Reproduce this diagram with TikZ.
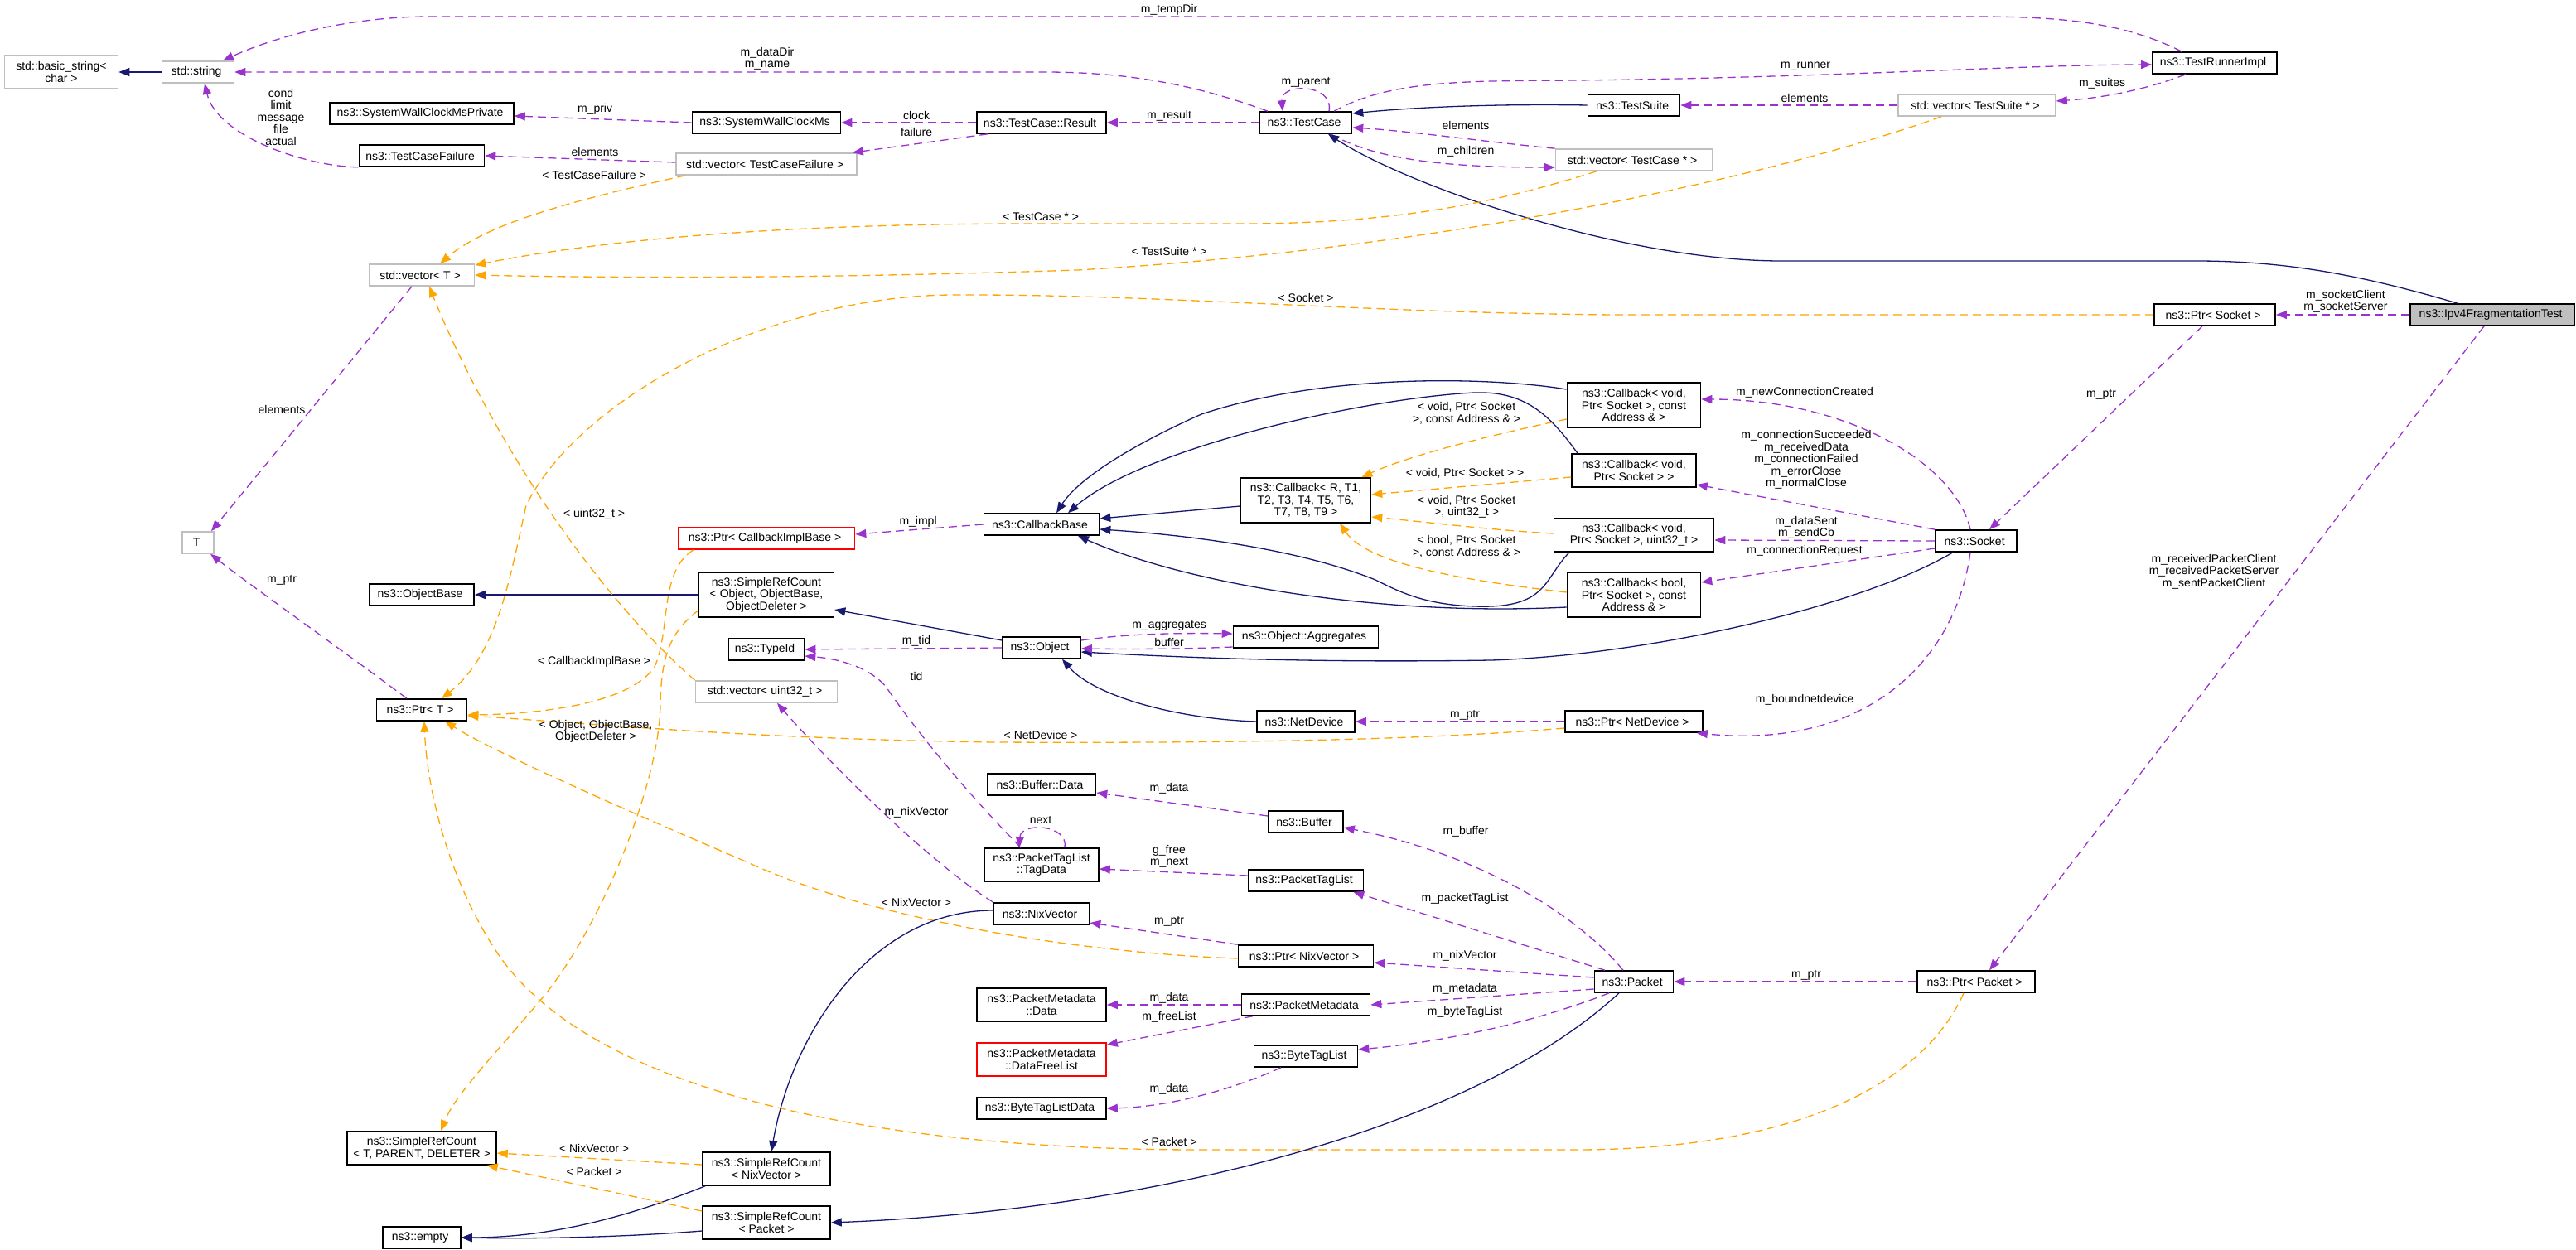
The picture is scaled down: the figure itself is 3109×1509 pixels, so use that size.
\documentclass[tikz,border=0pt]{standalone}
\usepackage{fontspec}
\setmainfont{Liberation Sans}
\usepackage{tikz}
\usetikzlibrary{arrows.meta,positioning,calc}
\usepackage{color}
\definecolor{inhcol}{HTML}{191970}
\definecolor{usecol}{HTML}{9A32CD}
\definecolor{tplcol}{HTML}{FFA500}
\definecolor{extcol}{HTML}{BFBFBF}

\tikzset{
  cls/.style={draw=black, fill=white, line width=1.6pt, font=\fontsize{14}{14.5}\selectfont,
    align=center, inner xsep=4pt, inner ysep=2pt, minimum height=26pt},
  ext/.style={cls, draw=extcol},
  trunc/.style={cls, draw=red},
  focus/.style={cls, fill=extcol},
  lines2/.style={minimum height=40pt},
  lines3/.style={minimum height=54pt},
  inherit/.style={draw=inhcol, line width=1.3pt, -{Triangle[length=13pt,width=10pt]}},
  member/.style={draw=usecol, line width=1.3pt, dash pattern=on 10pt off 6pt, -{Triangle[length=13pt,width=10pt]}},
  templ/.style={draw=tplcol, line width=1.3pt, dash pattern=on 10pt off 6pt, -{Triangle[length=13pt,width=10pt]}},
  lbl/.style={font=\fontsize{14}{14.5}\selectfont, align=center, inner sep=0pt}
}

\begin{document}
\begin{tikzpicture}[x=1pt,y=-1pt]
    \path[use as bounding box, fill=white] (0,0) rectangle (3109,1509);

    % classes
    \node [ext, lines2, minimum width=137pt] (bstr) at (74,87) { std::basic\_string<\\char > };
    \node [ext, minimum width=87pt] (str) at (239,87) { std::string };
    \node [ext, minimum width=38pt] (T) at (239,655) { T };
    \node [cls, minimum width=222pt] (swcp) at (509,137) { ns3::SystemWallClockMsPrivate };
    \node [cls, minimum width=151pt] (tcf) at (509,188) { ns3::TestCaseFailure };
    \node [ext, minimum width=127pt] (vecT) at (509,332) { std::vector< T > };
    \node [cls, minimum width=126pt] (objb) at (509,718) { ns3::ObjectBase };
    \node [cls, minimum width=109pt] (ptrT) at (509,857) { ns3::Ptr< T > };
    \node [cls, lines2, minimum width=180pt] (srctpd) at (509,1386) { ns3::SimpleRefCount\\< T, PARENT, DELETER > };
    \node [cls, minimum width=94pt] (empty) at (509,1494) { ns3::empty };
    \node [cls, minimum width=179pt] (swc) at (925,148) { ns3::SystemWallClockMs };
    \node [ext, minimum width=218pt] (vtcf) at (925,198) { std::vector< TestCaseFailure > };
    \node [trunc, minimum width=213pt] (pcib) at (925,650) { ns3::Ptr< CallbackImplBase > };
    \node [cls, lines3, minimum width=163pt] (src) at (925,718) { ns3::SimpleRefCount\\< Object, ObjectBase,\\ObjectDeleter > };
    \node [cls, minimum width=91pt] (typeid) at (925,784) { ns3::TypeId };
    \node [ext, minimum width=171pt] (vu32) at (925,835) { std::vector< uint32\_t > };
    \node [cls, lines2, minimum width=154pt] (srcnix) at (925,1411) { ns3::SimpleRefCount\\< NixVector > };
    \node [cls, lines2, minimum width=154pt] (srcpkt) at (925,1476) { ns3::SimpleRefCount\\< Packet > };
    \node [cls, minimum width=156pt] (res) at (1257,148) { ns3::TestCase::Result };
    \node [cls, minimum width=139pt] (cbb) at (1257,633) { ns3::CallbackBase };
    \node [cls, minimum width=94pt] (obj) at (1257,782) { ns3::Object };
    \node [cls, minimum width=131pt] (bufd) at (1257,947) { ns3::Buffer::Data };
    \node [cls, lines2, minimum width=138pt] (tagd) at (1257,1044) { ns3::PacketTagList\\::TagData };
    \node [cls, minimum width=115pt] (nix) at (1257,1103) { ns3::NixVector };
    \node [cls, lines2, minimum width=156pt] (pmdd) at (1257,1213) { ns3::PacketMetadata\\::Data };
    \node [trunc, lines2, minimum width=156pt] (pmfl) at (1257,1279) { ns3::PacketMetadata\\::DataFreeList };
    \node [cls, minimum width=156pt] (btld) at (1257,1338) { ns3::ByteTagListData };
    \node [cls, minimum width=111pt] (tc) at (1576,148) { ns3::TestCase };
    \node [cls, lines3, minimum width=157pt] (cbg) at (1576,604) { ns3::Callback< R, T1,\\T2, T3, T4, T5, T6,\\T7, T8, T9 > };
    \node [cls, minimum width=175pt] (agg) at (1576,769) { ns3::Object::Aggregates };
    \node [cls, minimum width=118pt] (netdev) at (1576,871) { ns3::NetDevice };
    \node [cls, minimum width=90pt] (buf) at (1576,992) { ns3::Buffer };
    \node [cls, minimum width=139pt] (ptl) at (1576,1063) { ns3::PacketTagList };
    \node [cls, minimum width=163pt] (pnix) at (1576,1154) { ns3::Ptr< NixVector > };
    \node [cls, minimum width=155pt] (pmd) at (1576,1213) { ns3::PacketMetadata };
    \node [cls, minimum width=125pt] (btl) at (1576,1275) { ns3::ByteTagList };
    \node [cls, minimum width=111pt] (ts) at (1972,127) { ns3::TestSuite };
    \node [ext, minimum width=189pt] (vtc) at (1972,193) { std::vector< TestCase * > };
    \node [cls, lines3, minimum width=161pt] (cb1) at (1972,489) { ns3::Callback< void,\\Ptr< Socket >, const\\Address \& > };
    \node [cls, lines2, minimum width=150pt] (cb2) at (1972,568) { ns3::Callback< void,\\Ptr< Socket > > };
    \node [cls, lines2, minimum width=193pt] (cb3) at (1972,646) { ns3::Callback< void,\\Ptr< Socket >, uint32\_t > };
    \node [cls, lines3, minimum width=161pt] (cb4) at (1972,718) { ns3::Callback< bool,\\Ptr< Socket >, const\\Address \& > };
    \node [cls, minimum width=166pt] (pnd) at (1972,871) { ns3::Ptr< NetDevice > };
    \node [cls, minimum width=95pt] (pkt) at (1972,1185) { ns3::Packet };
    \node [ext, minimum width=190pt] (vts) at (2386,127) { std::vector< TestSuite * > };
    \node [cls, minimum width=98pt] (sock) at (2385,653) { ns3::Socket };
    \node [cls, minimum width=142pt] (ppkt) at (2385,1185) { ns3::Ptr< Packet > };
    \node [cls, minimum width=150pt] (tri) at (2673,76) { ns3::TestRunnerImpl };
    \node [cls, minimum width=146pt] (psock) at (2673,380) { ns3::Ptr< Socket > };
    \node [focus, minimum width=198pt] (main) at (3008,380) { ns3::Ipv4FragmentationTest };

    % test framework
    \draw [inherit] (str) -- (bstr);
    \draw [member] ([xshift=-40pt]tri.north) .. controls (2560,25) and (2480,20) .. (2380,20) -- (520,20) .. controls (420,20) and (330,45) .. ([xshift=30pt]str.north);
    \draw [member] ([xshift=-46pt]tc.north) .. controls (1450,105) and (1370,87) .. (1260,87) -- (str.east);
    \draw [member] (tcf.south west) .. controls (370,201) and (262,165) .. ([xshift=8pt]str.south);
    \draw [member] (swc.west) -- ([yshift=-3pt]swcp.east);
    \draw [member] ([yshift=2pt]vtcf.west) -- (tcf.east);
    \draw [member] (res.west) -- (swc.east);
    \draw [member] ([xshift=14pt]res.south west) -- ([xshift=-6pt]vtcf.north east);
    \draw [member] (tc.west) -- (res.east);
    \draw [member] ([xshift=28pt]tc.north) .. controls (1610,100) and (1545,100) .. ([xshift=-28pt]tc.north);
    \draw [member] ([xshift=34pt]tc.north) .. controls (1680,95) and (1780,98) .. (1900,97) .. controls (2200,94) and (2450,78) .. ([yshift=-2pt]tri.west);
    \draw [inherit] (ts.west) .. controls (1800,125) and (1700,130) .. ([yshift=11pt]tc.east);
    \draw [member] (vts) -- (ts);
    \draw [member] ([xshift=-35pt]tri.south) .. controls (2590,108) and (2540,118) .. ([yshift=5pt]vts.east);
    \draw [member] (vtc.north west) .. controls (1800,172) and (1700,158) .. ([yshift=-6pt]tc.east);
    \draw [member] ([xshift=30pt]tc.south) .. controls (1660,192) and (1740,202) .. ([yshift=-9pt]vtc.west);
    \draw [inherit] ([xshift=-42pt]main.north) .. controls (2850,332) and (2760,315) .. (2650,315) -- (2150,315) .. controls (1960,315) and (1700,225) .. ([xshift=27pt]tc.south);
    \draw [templ] ([xshift=12pt]vtcf.south west) .. controls (700,240) and (590,268) .. ([xshift=22pt]vecT.north);
    \draw [templ] ([xshift=-45pt]vtc.south) .. controls (1820,240) and (1700,270) .. (1500,270) -- (1250,270) .. controls (900,270) and (700,295) .. ([yshift=12pt]vecT.east);
    \draw [templ] ([xshift=-43pt]vts.south) .. controls (2150,210) and (1750,300) .. (1300,326) .. controls (1000,336) and (750,336) .. (vecT.east);
    \draw [member] ([xshift=-12pt]vecT.south) -- ([xshift=16pt]T.north);
    \draw [member] ([xshift=-18pt]ptrT.north) .. controls (420,790) and (300,705) .. ([xshift=15pt]T.south);

    % sockets and callbacks
    \draw [templ] (psock.west) -- (1950,380) .. controls (1650,378) and (1400,355) .. (1150,356) .. controls (930,357) and (700,480) .. (635,610) .. controls (615,700) and (600,790) .. ([xshift=24pt]ptrT.north);
    \draw [member] (main) -- (psock);
    \draw [member] ([xshift=-15pt]psock.south) -- ([xshift=16pt]sock.north);
    \draw [member] ([xshift=-7pt]sock.north) .. controls (2360,560) and (2230,482) .. ([yshift=7pt]cb1.east);
    \draw [member] (sock.north west) -- ([yshift=-17pt]cb2.east);
    \draw [member] (sock.west) -- ([yshift=-6pt]cb3.east);
    \draw [member] ([yshift=-9pt]sock.west) -- ([yshift=15pt]cb4.east);
    \draw [inherit] ([xshift=-28pt]sock.south) .. controls (2250,730) and (2000,790) .. (1800,797) .. controls (1600,800) and (1450,795) .. ([yshift=-5pt]obj.east);
    \draw [member] ([xshift=-7pt]sock.south) .. controls (2360,800) and (2250,905) .. ([xshift=-8pt]pnd.south east);
    \draw [member] ([xshift=-10pt]main.south) -- ([xshift=16pt]ppkt.north);
    \draw [inherit] ([yshift=19pt]cb1.west) .. controls (1800,455) and (1600,450) .. (1450,500) .. controls (1360,540) and (1300,580) .. ([xshift=18pt]cbb.north);
    \draw [inherit] ([xshift=-68pt]cb2.north) .. controls (1870,500) and (1840,472) .. (1780,474) .. controls (1650,480) and (1380,540) .. ([xshift=32pt]cbb.north);
    \draw [inherit] ([yshift=-7pt]cbg.west) -- ([yshift=7pt]cbb.east);
    \draw [inherit] ([xshift=-78pt]cb3.south) .. controls (1862,700) and (1868,735) .. (1780,732) .. controls (1720,730) and (1690,715) .. (1660,700) .. controls (1560,660) and (1420,645) .. ([yshift=-6pt]cbb.east);
    \draw [inherit] ([yshift=-15pt]cb4.west) .. controls (1650,745) and (1420,700) .. ([xshift=44pt]cbb.south);
    \draw [templ] ([yshift=-17pt]cb1.west) .. controls (1800,525) and (1700,550) .. ([xshift=-12pt]cbg.north east);
    \draw [templ] ([yshift=-8pt]cb2.west) -- ([yshift=7pt]cbg.east);
    \draw [templ] ([yshift=2pt]cb3.west) .. controls (1800,640) and (1720,630) .. ([yshift=-20pt]cbg.east);
    \draw [templ] ([yshift=3pt]cb4.west) .. controls (1760,700) and (1650,680) .. ([xshift=41pt]cbg.south);
    \draw [member] (cbb.west) -- ([yshift=5pt]pcib.east);
    \draw [templ] ([xshift=-88pt]pcib.south) .. controls (795,690) and (810,760) .. (790,805) .. controls (760,850) and (650,862) .. ([yshift=-6pt]ptrT.east);
    \draw [templ] ([yshift=-19pt]src.west) .. controls (805,765) and (798,800) .. (797,850) .. controls (796,950) and (720,1130) .. (650,1210) .. controls (600,1270) and (550,1320) .. ([xshift=23pt]srctpd.north);

    % objects
    \draw [inherit] (src) -- (objb);
    \draw [inherit] ([yshift=9pt]obj.west) -- ([yshift=-18pt]src.east);
    \draw [member] (obj.west) -- (typeid.east);
    \draw [member] ([yshift=9pt]obj.east) .. controls (1360,765) and (1420,764) .. ([yshift=4pt]agg.west);
    \draw [member] ([yshift=-12pt]agg.west) .. controls (1440,783) and (1380,784) .. ([yshift=-1pt]obj.east);
    \draw [inherit] (netdev.west) .. controls (1420,868) and (1320,840) .. ([xshift=25pt]obj.south);
    \draw [member] (pnd) -- (netdev);
    \draw [templ] ([yshift=-8pt]pnd.west) .. controls (1700,895) and (1450,897) .. (1200,896) .. controls (900,892) and (700,872) .. ([yshift=-7pt]ptrT.east);
    \draw [templ] (vu32.north west) .. controls (700,700) and (580,500) .. ([xshift=9pt]vecT.south);

    % packets
    \draw [templ] ([xshift=-15pt]ppkt.south) .. controls (2330,1290) and (2200,1388) .. (1900,1388) -- (1450,1388) .. controls (1000,1388) and (700,1300) .. (600,1150) .. controls (540,1060) and (515,950) .. ([xshift=3pt]ptrT.south);
    \draw [templ] ([yshift=-3pt]pnix.west) .. controls (1300,1150) and (1050,1110) .. (900,1040) .. controls (760,980) and (600,910) .. ([xshift=28pt]ptrT.south);
    \draw [member] (nix.north west) .. controls (1120,1040) and (1000,920) .. ([xshift=13pt]vu32.south);
    \draw [member] ([xshift=-25pt]tagd.north) .. controls (1150,940) and (1090,860) .. (1070,830) .. controls (1050,805) and (1010,795) .. ([yshift=-8pt]typeid.east);
    \draw [member] ([xshift=28pt]tagd.north) .. controls (1290,995) and (1232,992) .. ([xshift=-27pt]tagd.north);
    \draw [member] ([yshift=6pt]ptl.west) -- ([yshift=-5pt]tagd.east);
    \draw [member] ([yshift=7pt]buf.west) -- ([yshift=-10pt]bufd.east);
    \draw [member] (pnix.north west) -- ([yshift=-11pt]nix.east);
    \draw [member] (pmd) -- (pmdd);
    \draw [member] ([xshift=14pt]pmd.south west) -- ([yshift=-3pt]pmfl.north east);
    \draw [member] ([xshift=-30pt]btl.south) .. controls (1500,1310) and (1420,1336) .. (btld.east);
    \draw [member] ([xshift=-13pt]pkt.north) .. controls (1900,1100) and (1780,1030) .. ([yshift=-7pt]buf.east);
    \draw [member] ([xshift=-35pt]pkt.north) -- ([xshift=-13pt]ptl.south east);
    \draw [member] ([yshift=5pt]pkt.west) -- ([yshift=-8pt]pnix.east);
    \draw [member] ([yshift=-9pt]pkt.west) -- (pmd.east);
    \draw [member] ([xshift=-30pt]pkt.south) .. controls (1850,1235) and (1740,1258) .. ([yshift=8pt]btl.east);
    \draw [inherit] ([xshift=-18pt]pkt.south) .. controls (1780,1360) and (1400,1460) .. (srcpkt.east);
    \draw [member] (ppkt) -- (pkt);
    \draw [inherit] ([yshift=4pt]nix.west) .. controls (1050,1099) and (955,1250) .. ([xshift=6pt]srcnix.north);
    \draw [inherit] ([xshift=-74pt]srcnix.south) .. controls (780,1460) and (680,1494) .. (empty.east);
    \draw [inherit] ([yshift=-10pt]srcpkt.west) .. controls (760,1493) and (650,1496) .. (empty.east);
    \draw [templ] ([yshift=5pt]srcnix.west) -- ([yshift=-6pt]srctpd.east);
    \draw [templ] ([yshift=14pt]srcpkt.west) -- ([xshift=-12pt]srctpd.south east);

    % edge labels
    \node [lbl] (lTempDir) at (1413,12) { m\_tempDir };
    \node [lbl] (lDataDir) at (926,71) { m\_dataDir\\m\_name };
    \node [lbl] (lCond) at (339,141) { cond\\limit\\message\\file\\actual };
    \node [lbl] (lPriv) at (720,132) { m\_priv };
    \node [lbl] (lElemTcf) at (720,183) { elements };
    \node [lbl] (lTplTcf) at (719,211) { < TestCaseFailure > };
    \node [lbl] (lClock) at (1108,139) { clock };
    \node [lbl] (lFailure) at (1108,159) { failure };
    \node [lbl] (lResult) at (1413,140) { m\_result };
    \node [lbl] (lParent) at (1578,99) { m\_parent };
    \node [lbl] (lRunner) at (2181,80) { m\_runner };
    \node [lbl] (lElemTs) at (2180,118) { elements };
    \node [lbl] (lSuites) at (2539,101) { m\_suites };
    \node [lbl] (lElemTc) at (1771,151) { elements };
    \node [lbl] (lChildren) at (1771,183) { m\_children };
    \node [lbl] (lTplTc) at (1258,262) { < TestCase * > };
    \node [lbl] (lTplTs) at (1413,303) { < TestSuite * > };
    \node [lbl] (lTplSock) at (1578,359) { < Socket > };
    \node [lbl] (lSockets) at (2831,364) { m\_socketClient\\m\_socketServer };
    \node [lbl] (lElemT) at (342,494) { elements };
    \node [lbl] (lPtrT) at (342,700) { m\_ptr };
    \node [lbl] (lTplU32) at (719,621) { < uint32\_t > };
    \node [lbl] (lImpl) at (1110,630) { m\_impl };
    \node [lbl] (lTplCib) at (719,799) { < CallbackImplBase > };
    \node [lbl] (lTplObj) at (719,883) { < Object, ObjectBase,\\ObjectDeleter > };
    \node [lbl] (lTid) at (1108,774) { m\_tid };
    \node [lbl] (lTidTag) at (1108,816) { tid };
    \node [lbl] (lAggr) at (1413,755) { m\_aggregates };
    \node [lbl] (lBuffer) at (1413,775) { buffer };
    \node [lbl] (lCb1) at (1770,499) { < void, Ptr< Socket\\>, const Address \& > };
    \node [lbl] (lCb2) at (1770,571) { < void, Ptr< Socket > > };
    \node [lbl] (lCb3) at (1770,612) { < void, Ptr< Socket\\>, uint32\_t > };
    \node [lbl] (lCb4) at (1770,660) { < bool, Ptr< Socket\\>, const Address \& > };
    \node [lbl] (lNewConn) at (2180,474) { m\_newConnectionCreated };
    \node [lbl] (lConn) at (2180,555) { m\_connectionSucceeded\\m\_receivedData\\m\_connectionFailed\\m\_errorClose\\m\_normalClose };
    \node [lbl] (lSent) at (2180,637) { m\_dataSent\\m\_sendCb };
    \node [lbl] (lRequest) at (2180,665) { m\_connectionRequest };
    \node [lbl] (lBound) at (2180,845) { m\_boundnetdevice };
    \node [lbl] (lPtrSock) at (2538,476) { m\_ptr };
    \node [lbl] (lPackets) at (2672,690) { m\_receivedPacketClient\\m\_receivedPacketServer\\m\_sentPacketClient };
    \node [lbl] (lPtrNd) at (1770,863) { m\_ptr };
    \node [lbl] (lTplNd) at (1258,887) { < NetDevice > };
    \node [lbl] (lBufData) at (1413,952) { m\_data };
    \node [lbl] (lBuf) at (1771,1004) { m\_buffer };
    \node [lbl] (lNext) at (1258,990) { next };
    \node [lbl] (lFree) at (1411,1034) { g\_free\\m\_next };
    \node [lbl] (lNixU32) at (1108,981) { m\_nixVector };
    \node [lbl] (lTplNix) at (1108,1089) { < NixVector > };
    \node [lbl] (lTagList) at (1770,1085) { m\_packetTagList };
    \node [lbl] (lPtrNix) at (1413,1112) { m\_ptr };
    \node [lbl] (lNixVec) at (1770,1154) { m\_nixVector };
    \node [lbl] (lMeta) at (1770,1194) { m\_metadata };
    \node [lbl] (lMetaData) at (1413,1205) { m\_data };
    \node [lbl] (lByteTag) at (1770,1222) { m\_byteTagList };
    \node [lbl] (lFreeList) at (1413,1228) { m\_freeList };
    \node [lbl] (lTagData) at (1413,1315) { m\_data };
    \node [lbl] (lTplPkt) at (1413,1378) { < Packet > };
    \node [lbl] (lPtrPkt) at (2182,1177) { m\_ptr };
    \node [lbl] (lSrcNix) at (719,1386) { < NixVector > };
    \node [lbl] (lSrcPkt) at (719,1414) { < Packet > };
\end{tikzpicture}
\end{document}
